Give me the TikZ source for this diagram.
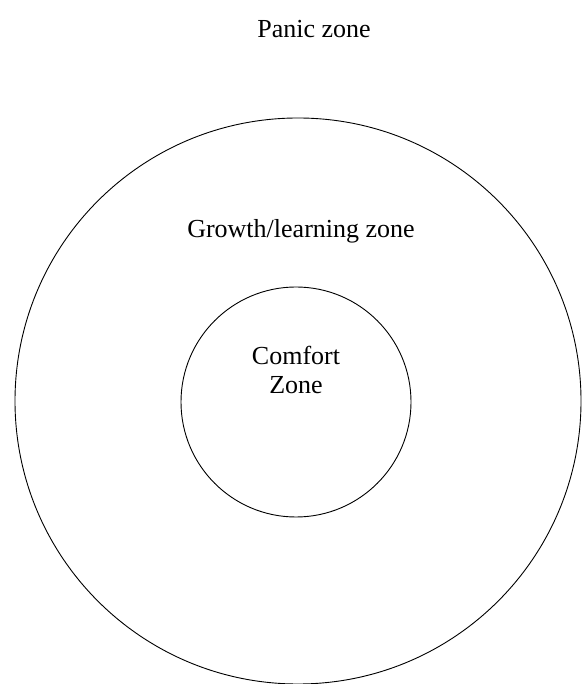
\documentclass[tikz,border=0pt]{standalone}
\usepackage{fontspec}
\setmainfont{Liberation Serif}
\begin{document}
\begin{tikzpicture}[x=1pt,y=1pt,
  zone/.style={circle, draw, line width=0.9pt, inner sep=0pt},
  lbl/.style={font=\fontsize{26}{30}\selectfont, align=center}]
\useasboundingbox (0,0) rectangle (587,684);
\node[zone, minimum size=566pt] (outer) at (298,283) {};
\node[zone, minimum size=230pt] (inner) at (296,282) {};
\node[lbl] (panic) at (314,655) {Panic zone};
\node[lbl] (growth) at (301,453) {Growth/learning zone};
\node[lbl, font=\fontsize{26}{29}\selectfont] (comfort) at (296,314) {Comfort\\Zone};
\end{tikzpicture}
\end{document}
